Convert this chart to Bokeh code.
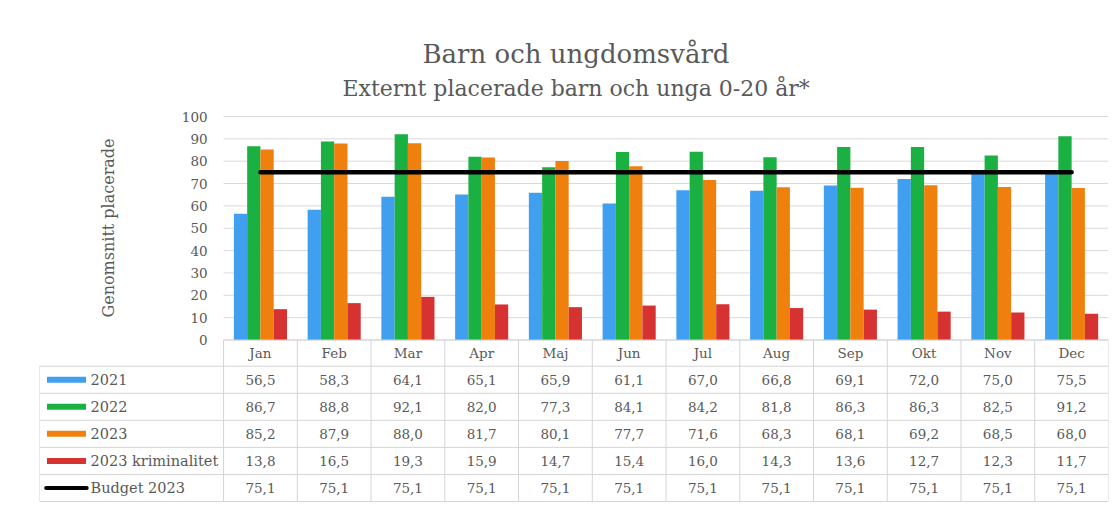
from bokeh.plotting import figure
from bokeh.models import Range1d, FixedTicker, Title, ColumnDataSource, LinearAxis
from bokeh.core.properties import value
from bokeh.embed import file_html
from bokeh.resources import INLINE

# ---------------- data ----------------
months = ["Jan", "Feb", "Mar", "Apr", "Maj", "Jun", "Jul", "Aug", "Sep", "Okt", "Nov", "Dec"]
s2021 = [56.5, 58.3, 64.1, 65.1, 65.9, 61.1, 67.0, 66.8, 69.1, 72.0, 75.0, 75.5]
s2022 = [86.7, 88.8, 92.1, 82.0, 77.3, 84.1, 84.2, 81.8, 86.3, 86.3, 82.5, 91.2]
s2023 = [85.2, 87.9, 88.0, 81.7, 80.1, 77.7, 71.6, 68.3, 68.1, 69.2, 68.5, 68.0]
s2023_krim = [13.8, 16.5, 19.3, 15.9, 14.7, 15.4, 16.0, 14.3, 13.6, 12.7, 12.3, 11.7]
budget = [75.1] * 12
series_names = ["2021", "2022", "2023", "2023 kriminalitet", "Budget 2023"]
y_ticks = [0, 10, 20, 30, 40, 50, 60, 70, 80, 90, 100]

title_text = "Barn och ungdomsvård"
subtitle_text = "Externt placerade barn och unga 0-20 år*"
y_label = "Genomsnitt placerade"

# ---------------- style ----------------
FONT = "DejaVu Serif"
TXT = "#595959"
GRID = "#d9d9d9"
TABLE = "#d4d4d4"
colors = ["#419ff0", "#1bb042", "#f0800d", "#d63232"]

bar_series = [s2021, s2022, s2023, s2023_krim]
bar_keys = ["s2021", "s2022", "s2023", "s2023k"]
offsets = [-0.27, -0.09, 0.09, 0.27]

xc = [i + 0.5 for i in range(len(months))]  # category centres (one unit per month)
src = ColumnDataSource(dict(x=xc, month=months, s2021=s2021, s2022=s2022, s2023=s2023,
                            s2023k=s2023_krim, budget=budget))

LEFT = -2.496          # legend column of the data table, in month-column units
HEAD = 26.2            # table header height (px)
ROW = 27.06            # table row height (px)
n_rows = len(series_names)

p = figure(width=1112, height=505,
           x_range=Range1d(LEFT, 12), y_range=Range1d(-74.05, 103.58),
           x_axis_location=None, y_axis_location=None, title=None,
           output_backend="svg", toolbar_location=None,
           min_border_left=39, min_border_right=4, min_border_bottom=0, min_border_top=108)
p.extra_y_ranges = {"table": Range1d(165.5, -231.5)}
p.outline_line_color = None
p.background_fill_color = "white"
p.border_fill_color = "white"
for g in p.grid:
    g.visible = False

# gridlines over the month columns
p.segment(x0=[0] * len(y_ticks), y0=y_ticks, x1=[12] * len(y_ticks), y1=y_ticks,
          line_color=GRID, line_width=1)

# bars
for key, col, off in zip(bar_keys, colors, offsets):
    p.vbar(x=[v + off for v in xc], top=src.data[key], width=0.18,
           fill_color=col, line_color=None)

# budget line
p.line(x="x", y="budget", source=src, line_width=4.5, line_color="black", line_cap="round")

# y axis at the left of the month columns
ax = LinearAxis(fixed_location=0, bounds=(0, 100), ticker=FixedTicker(ticks=y_ticks))
ax.axis_line_color = None
ax.major_tick_line_color = None
ax.minor_tick_line_color = None
ax.major_tick_out = 0
ax.major_tick_in = 0
ax.major_label_standoff = 16
ax.major_label_text_font = FONT
ax.major_label_text_font_size = "13.5px"
ax.major_label_text_color = TXT
ax.axis_label = y_label
ax.axis_label_text_font = FONT
ax.axis_label_text_font_size = "16px"
ax.axis_label_text_font_style = "normal"
ax.axis_label_text_color = TXT
ax.axis_label_standoff = 61
p.add_layout(ax, "left")

# titles
p.add_layout(Title(text=subtitle_text, align="left", offset=303, text_font=FONT,
                   text_font_size="22px", text_font_style="normal", text_color=TXT,
                   standoff=16), "above")
p.add_layout(Title(text=title_text, align="left", offset=383, text_font=FONT,
                   text_font_size="26px", text_font_style="normal", text_color=TXT,
                   standoff=-7), "above")

# ---------------- data table ----------------
bottom = HEAD + n_rows * ROW
hx0 = [0] + [LEFT] * (n_rows + 1)
hy = [0] + [HEAD + k * ROW for k in range(n_rows + 1)]
p.segment(x0=hx0, y0=hy, x1=[12] * len(hy), y1=hy, line_color=TABLE, line_width=1,
          y_range_name="table")
vx = [LEFT] + list(range(13))
vy0 = [HEAD] + [0] * 13
p.segment(x0=vx, y0=vy0, x1=vx, y1=[bottom] * len(vx), line_color=TABLE, line_width=1,
          y_range_name="table")

p.text(x=xc, y=[HEAD / 2] * 12, text=months, text_align="center", text_baseline="middle",
       text_font=value(FONT), text_font_size="13.5px", text_color=TXT, y_range_name="table")

all_series = bar_series + [budget]
row_y = [HEAD + ROW * (k + 0.5) for k in range(n_rows)]
for k, vals in enumerate(all_series):
    labels = [f"{v:.1f}".replace(".", ",") for v in vals]
    p.text(x=xc, y=[row_y[k]] * 12, text=labels, text_align="center", text_baseline="middle",
           text_font=value(FONT), text_font_size="13.5px", text_color=TXT, y_range_name="table")

p.text(x=[LEFT] * n_rows, y=row_y, text=series_names, x_offset=51, text_align="left",
       text_baseline="middle", text_font=value(FONT), text_font_size="14.5px", text_color=TXT,
       y_range_name="table")
p.rect(x=[LEFT + 0.366] * 4, y=row_y[:4], width=0.529, height=6, fill_color=colors,
       line_color=None, y_range_name="table")
p.segment(x0=[LEFT + 0.09], y0=[row_y[4]], x1=[LEFT + 0.64], y1=[row_y[4]],
          line_color="black", line_width=4, line_cap="round", y_range_name="table")

open("out.html", "w").write(file_html(p, INLINE))
